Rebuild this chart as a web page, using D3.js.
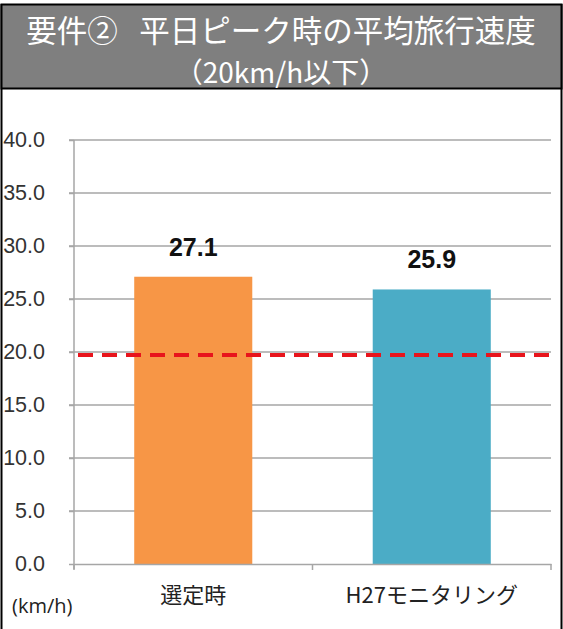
<!DOCTYPE html>
<html>
<head>
<meta charset="utf-8">
<script src="https://cdn.jsdelivr.net/npm/d3@7"></script>
<style>
  body { margin: 0; background: #fff; }
  svg { display: block; }
</style>
</head>
<body>
<svg id="chart"></svg>
<script>
// chart data
const categories = ["選定時", "H27モニタリング"];
const speeds = [27.1, 25.9];
const barColors = ["#F79646", "#4BACC6"];
const yTicks = [0, 5, 10, 15, 20, 25, 30, 35, 40];
const threshold = 20;
const titleLines = ["要件②\u2002\u2009平日ピーク時の平均旅行速度", "（20km/h以下）"];
const unitLabel = "(km/h)";

const width = 563, height = 629;
const svg = d3.select("#chart").attr("width", width).attr("height", height);

// outer frame
svg.append("line").attr("x1", 1.5).attr("x2", 1.5).attr("y1", 4).attr("y2", height)
    .attr("stroke", "#000").attr("stroke-width", 2);
svg.append("line").attr("x1", 561.5).attr("x2", 561.5).attr("y1", 4).attr("y2", height)
    .attr("stroke", "#000").attr("stroke-width", 2);

// title box
svg.append("rect")
    .attr("x", 1.5).attr("y", 4.5)
    .attr("width", 560).attr("height", 84)
    .attr("fill", "#7f7f7f")
    .attr("stroke", "#000").attr("stroke-width", 2);

svg.selectAll(".title")
    .data(titleLines)
    .enter()
    .append("text")
    .attr("class", "title")
    .attr("x", 281)
    .attr("y", (d, i) => i === 0 ? 41.5 : 83)
    .attr("text-anchor", "middle")
    .attr("fill", "#fff")
    .style("font-family", "'Noto Sans CJK JP', sans-serif")
    .style("font-size", (d, i) => i === 0 ? "30.5px" : "28px")
    .text(d => d);

// scales
const x = d3.scaleBand()
    .domain(categories)
    .range([74, 551])
    .paddingInner(0.505)
    .paddingOuter(0.2525);

const y = d3.scaleLinear()
    .domain([0, 40])
    .range([564, 140]);

// grid lines
svg.append("g")
    .selectAll("line")
    .data(yTicks.filter(d => d > 0))
    .enter()
    .append("line")
    .attr("x1", 69).attr("x2", 551)
    .attr("y1", d => y(d)).attr("y2", d => y(d))
    .attr("stroke", "#a6a6a6").attr("stroke-width", 1.5);

// y axis
const yAxis = d3.axisLeft(y)
    .tickValues(yTicks)
    .tickFormat(d3.format(".1f"))
    .tickSize(5)
    .tickPadding(24);

const yAxisG = svg.append("g")
    .attr("transform", "translate(74,0)")
    .call(yAxis);
yAxisG.select(".domain").attr("stroke", "#a6a6a6").attr("stroke-width", 1.5)
    .attr("d", "M0,140V569");
yAxisG.selectAll(".tick line").attr("stroke", "#a6a6a6").attr("stroke-width", 1.5);
yAxisG.selectAll(".tick text")
    .attr("fill", "#333")
    .style("font-family", "'Liberation Sans', Arial, sans-serif")
    .style("font-size", "21.5px");

// bars
svg.selectAll(".bar")
    .data(speeds)
    .enter()
    .append("rect")
    .attr("class", "bar")
    .attr("x", (d, i) => x(categories[i]))
    .attr("y", d => y(d))
    .attr("width", x.bandwidth())
    .attr("height", d => y(0) - y(d))
    .attr("fill", (d, i) => barColors[i]);

// x axis
const xAxis = d3.axisBottom(x).tickSize(0);
const xAxisG = svg.append("g")
    .attr("transform", `translate(0,${y(0)})`)
    .call(xAxis);
xAxisG.select(".domain").attr("stroke", "#a6a6a6").attr("stroke-width", 1.5);
xAxisG.selectAll(".tick text")
    .attr("fill", "#222")
    .attr("y", 39)
    .attr("dy", 0)
    .style("font-family", "'Noto Sans CJK JP', sans-serif")
    .style("font-size", "22px");
// category separators
xAxisG.selectAll(".sep")
    .data([74, 312.5, 551])
    .enter()
    .append("line")
    .attr("x1", d => d).attr("x2", d => d)
    .attr("y1", 0).attr("y2", 6)
    .attr("stroke", "#a6a6a6").attr("stroke-width", 1.5);

// value labels
svg.selectAll(".val")
    .data(speeds)
    .enter()
    .append("text")
    .attr("class", "val")
    .attr("x", (d, i) => x(categories[i]) + x.bandwidth() / 2)
    .attr("y", d => y(d) - 21)
    .attr("text-anchor", "middle")
    .attr("fill", "#111")
    .style("font-family", "'Liberation Sans', Arial, sans-serif")
    .style("font-weight", "bold")
    .style("font-size", "25px")
    .text(d => d3.format(".1f")(d));

// threshold line
svg.append("line")
    .attr("x1", 78).attr("x2", 551)
    .attr("y1", y(threshold) + 3).attr("y2", y(threshold) + 3)
    .attr("stroke", "#e8141c")
    .attr("stroke-width", 4)
    .attr("stroke-dasharray", "15,9");

// unit label
svg.append("text")
    .attr("x", 12).attr("y", 613)
    .attr("fill", "#222")
    .style("font-family", "'Open Sans', sans-serif")
    .style("font-size", "20px")
    .text(unitLabel);
</script>
</body>
</html>
